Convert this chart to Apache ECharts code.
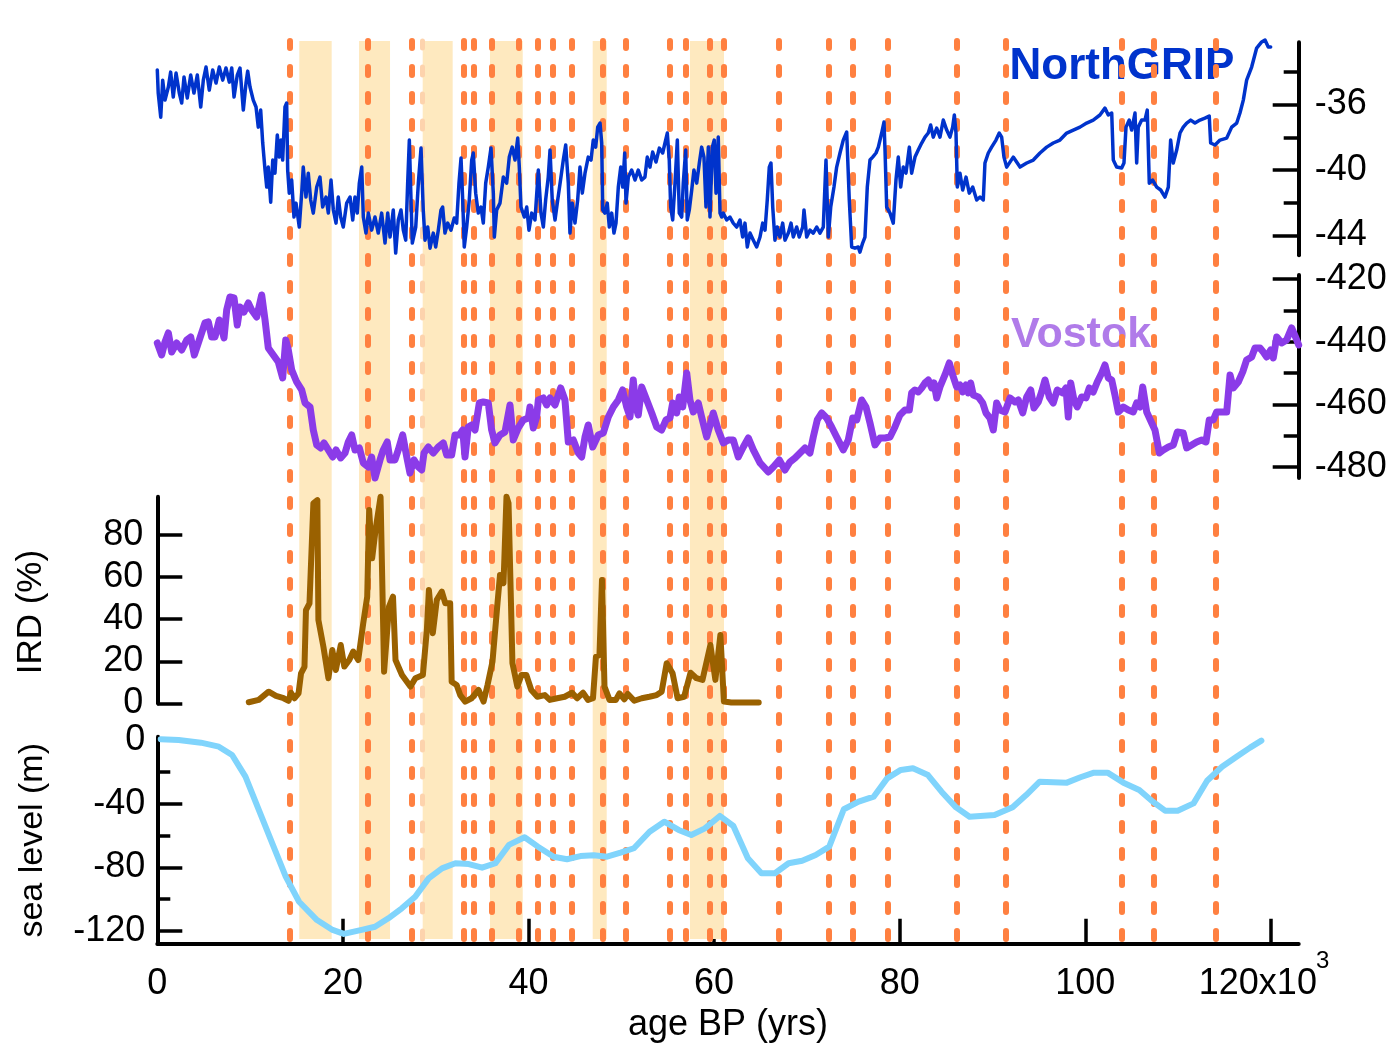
<!DOCTYPE html>
<html>
<head>
<meta charset="utf-8">
<script src="https://cdn.jsdelivr.net/npm/echarts@6/dist/echarts.min.js"></script>
<style>
  html, body { margin: 0; padding: 0; background: #ffffff; }
  #chart { width: 1389px; height: 1049px; }
</style>
</head>
<body>
<div id="chart"></div>
<script>
// ---- data (age in kyr BP) ----
// NorthGRIP ice core d18O (permil)
const northgrip = [
[0.00,-33.89],[0.10,-35.30],[0.37,-36.77],[0.58,-34.51],[0.83,-35.73],[1.19,-34.93],[1.44,-34.02],[1.72,-35.54],[2.02,-34.08],[2.37,-35.30],[2.63,-35.91],[2.88,-34.32],[3.23,-35.60],[3.60,-34.20],[3.95,-35.30],[4.31,-34.20],[4.68,-36.15],[4.96,-34.51],[5.25,-33.71],[5.60,-35.12],[5.97,-33.89],[6.33,-34.69],[6.68,-33.71],[7.05,-34.51],[7.40,-33.77],[7.76,-34.63],[8.02,-33.77],[8.27,-35.54],[8.62,-34.20],[8.91,-33.77],[9.27,-36.34],[9.56,-34.69],[9.74,-33.96],[9.99,-34.93],[10.34,-35.73],[10.64,-36.15],[10.88,-37.38],[11.14,-36.34],[11.36,-38.35],[11.61,-40.00],[11.79,-41.04],[11.96,-39.82],[12.22,-41.96],[12.44,-39.39],[12.68,-40.19],[12.93,-37.86],[13.15,-39.21],[13.33,-38.17],[13.51,-39.39],[13.76,-36.15],[13.94,-35.91],[14.05,-40.00],[14.22,-41.41],[14.48,-40.61],[14.73,-42.87],[14.95,-42.02],[15.30,-43.48],[15.56,-41.41],[15.73,-39.82],[16.02,-41.65],[16.27,-40.19],[16.53,-41.83],[16.81,-42.63],[17.18,-41.04],[17.53,-40.43],[17.82,-42.26],[18.18,-41.65],[18.43,-42.63],[18.72,-40.61],[18.97,-42.44],[19.26,-43.24],[19.50,-41.65],[19.76,-42.87],[20.04,-43.48],[20.41,-42.02],[20.77,-41.65],[21.06,-43.05],[21.30,-41.65],[21.55,-42.63],[21.77,-40.80],[22.03,-39.82],[22.20,-42.87],[22.49,-43.85],[22.74,-42.63],[23.10,-43.67],[23.46,-42.87],[23.81,-43.85],[24.18,-42.63],[24.54,-44.46],[24.83,-42.63],[25.08,-44.09],[25.43,-42.44],[25.69,-45.07],[25.97,-43.05],[26.26,-42.44],[26.51,-43.67],[26.77,-44.28],[26.98,-40.80],[27.16,-38.17],[27.34,-41.83],[27.48,-44.46],[27.85,-43.48],[28.13,-40.80],[28.42,-38.66],[28.66,-42.44],[28.85,-44.28],[29.14,-43.48],[29.39,-44.77],[29.74,-43.85],[30.00,-44.70],[30.28,-43.67],[30.57,-42.44],[30.75,-42.26],[31.00,-43.85],[31.29,-43.24],[31.65,-43.67],[32.00,-42.93],[32.26,-43.24],[32.51,-40.80],[32.73,-39.27],[32.91,-41.83],[33.08,-44.70],[33.34,-43.48],[33.62,-41.83],[33.88,-39.39],[34.05,-38.96],[34.31,-41.41],[34.59,-42.63],[34.88,-42.26],[35.13,-43.24],[35.39,-40.80],[35.67,-39.82],[35.96,-38.66],[36.21,-41.41],[36.32,-44.09],[36.57,-42.44],[36.93,-42.02],[37.29,-40.43],[37.65,-40.80],[37.93,-39.21],[38.25,-38.60],[38.55,-39.39],[38.84,-38.05],[39.01,-39.82],[39.19,-42.26],[39.55,-42.87],[39.81,-42.26],[40.05,-43.67],[40.35,-42.63],[40.70,-43.05],[41.06,-40.00],[41.35,-42.63],[41.60,-43.48],[41.85,-41.83],[42.13,-40.43],[42.32,-38.78],[42.56,-41.83],[42.86,-43.05],[43.15,-41.83],[43.50,-40.43],[43.75,-39.39],[44.01,-38.47],[44.29,-40.80],[44.47,-43.85],[44.72,-42.02],[45.01,-43.24],[45.30,-41.83],[45.55,-39.82],[45.80,-41.41],[46.09,-40.19],[46.44,-39.21],[46.74,-39.39],[46.98,-38.17],[47.24,-38.60],[47.46,-37.38],[47.71,-37.13],[47.89,-38.35],[48.00,-42.44],[48.24,-42.63],[48.49,-42.02],[48.71,-43.48],[48.97,-42.63],[49.21,-43.85],[49.43,-43.24],[49.68,-41.04],[49.94,-39.82],[50.15,-41.04],[50.37,-38.96],[50.51,-42.02],[50.76,-40.43],[51.12,-40.00],[51.48,-40.61],[51.83,-40.00],[52.20,-40.61],[52.55,-40.43],[52.80,-39.21],[53.09,-39.82],[53.38,-38.90],[53.74,-39.51],[54.10,-38.66],[54.46,-38.96],[54.71,-38.35],[54.96,-37.74],[55.17,-39.39],[55.32,-42.26],[55.54,-43.05],[55.79,-40.80],[56.04,-38.17],[56.25,-42.63],[56.51,-42.87],[56.68,-40.80],[56.94,-38.78],[57.11,-43.05],[57.33,-42.44],[57.59,-41.22],[57.83,-40.00],[58.13,-40.80],[58.41,-39.57],[58.66,-38.60],[58.91,-39.21],[59.13,-42.26],[59.38,-38.60],[59.56,-42.87],[59.81,-38.60],[60.02,-38.17],[60.21,-41.41],[60.45,-37.99],[60.64,-42.63],[60.82,-42.87],[60.99,-42.63],[61.36,-43.05],[61.71,-42.87],[62.07,-43.24],[62.44,-43.48],[62.79,-43.05],[63.08,-44.09],[63.33,-43.24],[63.58,-44.70],[63.87,-43.85],[64.23,-44.28],[64.59,-44.70],[64.95,-44.09],[65.24,-43.24],[65.49,-43.67],[65.73,-41.83],[65.95,-39.82],[66.13,-39.57],[66.32,-42.26],[66.56,-44.28],[66.81,-43.48],[67.10,-44.09],[67.39,-43.24],[67.64,-44.28],[68.00,-43.85],[68.29,-43.24],[68.54,-44.09],[68.90,-43.48],[69.18,-44.09],[69.55,-43.48],[69.69,-42.44],[69.98,-44.09],[70.33,-43.67],[70.69,-43.85],[71.06,-43.48],[71.41,-43.85],[71.77,-43.48],[72.06,-39.39],[72.31,-44.09],[72.57,-42.26],[72.92,-41.04],[73.21,-39.82],[73.57,-38.96],[73.92,-38.17],[74.29,-37.68],[74.57,-41.83],[74.83,-44.70],[75.18,-44.77],[75.54,-44.70],[75.72,-45.01],[76.01,-44.46],[76.26,-44.09],[76.51,-41.04],[76.80,-39.39],[77.09,-39.21],[77.45,-38.96],[77.70,-38.60],[78.06,-37.74],[78.31,-37.07],[78.42,-38.78],[78.60,-42.26],[78.96,-42.63],[79.31,-43.24],[79.60,-40.61],[79.85,-39.21],[80.11,-41.04],[80.39,-39.82],[80.68,-40.19],[81.04,-38.60],[81.29,-40.19],[81.65,-39.21],[82.00,-38.78],[82.37,-38.35],[82.73,-37.99],[83.08,-37.74],[83.34,-37.25],[83.62,-37.99],[83.99,-37.44],[84.34,-37.99],[84.70,-36.95],[85.07,-37.56],[85.42,-37.99],[85.71,-37.38],[85.89,-36.64],[86.07,-37.74],[86.21,-41.04],[86.50,-40.19],[86.79,-41.22],[87.15,-40.43],[87.50,-41.41],[87.87,-41.04],[88.30,-41.83],[88.66,-41.65],[89.01,-41.83],[89.19,-39.57],[89.55,-38.96],[89.91,-38.60],[90.38,-38.17],[90.73,-37.74],[90.99,-37.99],[91.24,-39.21],[91.53,-39.82],[92.24,-39.21],[92.97,-39.82],[93.69,-39.57],[94.40,-39.39],[95.12,-38.96],[95.84,-38.60],[96.55,-38.35],[97.27,-38.17],[98.00,-37.74],[98.71,-37.56],[99.43,-37.38],[100.15,-37.13],[100.86,-36.95],[101.58,-36.64],[102.12,-36.22],[102.48,-36.64],[102.85,-36.52],[103.02,-39.39],[103.38,-39.82],[103.92,-39.88],[104.17,-39.57],[104.39,-37.38],[104.74,-36.95],[105.00,-37.56],[105.36,-36.52],[105.54,-39.57],[105.71,-37.38],[106.08,-36.95],[106.43,-36.95],[106.68,-36.34],[106.90,-40.80],[107.26,-40.61],[107.70,-41.04],[108.13,-41.22],[108.59,-41.65],[108.95,-41.04],[109.20,-38.17],[109.48,-39.57],[109.85,-38.78],[110.21,-37.74],[110.56,-37.38],[110.93,-37.13],[111.36,-36.95],[111.82,-37.13],[112.36,-36.95],[112.90,-36.83],[113.36,-36.70],[113.51,-38.35],[113.98,-38.47],[114.52,-38.17],[115.24,-38.05],[115.78,-37.38],[116.32,-37.13],[116.67,-36.52],[117.03,-35.73],[117.39,-34.51],[117.93,-33.71],[118.47,-32.55],[119.01,-32.18],[119.37,-32.06],[119.72,-32.49],[119.98,-32.49]
];

// Vostok ice core deuterium (permil)
const vostok = [
[0.00,-440.43],[0.47,-444.26],[0.83,-440.11],[1.19,-437.23],[1.55,-443.30],[2.09,-440.43],[2.63,-442.66],[3.17,-439.47],[3.60,-438.51],[3.99,-444.26],[4.53,-439.47],[5.14,-434.04],[5.50,-433.72],[5.86,-438.51],[6.22,-438.51],[6.68,-433.08],[7.19,-438.83],[7.48,-429.89],[7.83,-425.74],[8.27,-426.06],[8.62,-434.68],[8.91,-428.93],[9.34,-430.53],[9.81,-427.66],[10.17,-429.89],[10.71,-432.13],[11.25,-425.10],[11.61,-433.08],[11.96,-442.02],[12.50,-444.26],[13.04,-446.49],[13.51,-451.60],[13.84,-439.47],[14.12,-442.66],[14.48,-449.04],[15.02,-452.88],[15.56,-455.43],[15.92,-459.58],[16.46,-460.86],[16.81,-468.20],[17.18,-472.98],[17.61,-473.94],[17.96,-472.35],[18.43,-474.58],[18.90,-476.82],[19.26,-474.58],[19.76,-477.13],[20.23,-475.54],[20.58,-472.03],[20.95,-469.79],[21.30,-474.58],[21.77,-473.94],[22.20,-478.73],[22.74,-480.01],[23.10,-476.82],[23.46,-483.52],[24.00,-477.77],[24.35,-474.58],[24.78,-472.03],[25.08,-477.77],[25.61,-477.77],[25.97,-474.58],[26.44,-469.79],[26.88,-476.82],[27.23,-481.92],[27.66,-477.77],[28.13,-480.01],[28.49,-480.97],[28.74,-475.54],[29.20,-473.62],[29.74,-475.54],[30.28,-473.62],[30.82,-472.35],[31.19,-476.18],[31.72,-476.18],[32.08,-469.79],[32.54,-469.79],[32.91,-468.20],[33.16,-476.82],[33.51,-467.24],[33.88,-466.60],[34.24,-468.20],[34.70,-459.58],[35.13,-459.26],[35.67,-459.58],[36.03,-468.20],[36.39,-472.35],[36.93,-469.79],[37.47,-468.83],[38.01,-460.22],[38.36,-471.39],[38.90,-467.56],[39.44,-465.00],[39.98,-464.37],[40.16,-460.86],[40.52,-467.56],[40.88,-464.05],[41.06,-458.62],[41.60,-457.98],[41.96,-460.22],[42.32,-457.98],[42.86,-460.22],[43.47,-454.79],[43.93,-458.62],[44.29,-472.03],[44.83,-471.39],[45.37,-475.54],[45.73,-476.82],[46.09,-470.43],[46.44,-466.60],[46.92,-473.62],[47.52,-469.79],[48.06,-469.15],[48.60,-464.05],[49.14,-460.86],[49.68,-458.62],[50.15,-455.43],[50.58,-460.86],[50.94,-464.05],[51.29,-452.24],[51.58,-460.86],[51.83,-463.41],[52.20,-454.47],[52.74,-458.62],[53.28,-462.77],[53.82,-467.24],[54.35,-468.20],[54.82,-465.00],[55.25,-464.37],[55.54,-459.58],[55.97,-462.77],[56.25,-457.66],[56.62,-460.86],[57.05,-450.00],[57.40,-458.62],[57.76,-462.45],[58.30,-459.58],[58.66,-464.05],[59.20,-470.43],[59.63,-465.96],[59.91,-462.77],[60.45,-468.20],[60.99,-472.35],[61.53,-471.39],[62.07,-471.39],[62.61,-476.82],[63.15,-473.62],[63.69,-470.75],[64.23,-474.58],[64.95,-478.73],[65.84,-481.61],[66.38,-480.01],[67.03,-477.77],[67.64,-480.97],[68.18,-478.41],[68.72,-477.13],[69.26,-475.54],[69.80,-473.94],[70.33,-475.54],[70.69,-470.43],[71.12,-465.00],[71.60,-462.77],[72.13,-464.37],[72.67,-467.24],[73.21,-470.43],[73.92,-474.58],[74.46,-471.39],[74.94,-464.37],[75.37,-465.00],[75.91,-458.62],[76.37,-460.86],[76.80,-465.96],[77.34,-472.98],[77.88,-470.75],[78.42,-470.75],[78.96,-470.43],[79.49,-467.24],[80.03,-463.41],[80.57,-461.81],[81.04,-461.81],[81.29,-456.38],[81.65,-455.43],[82.00,-456.06],[82.37,-454.79],[82.73,-453.19],[83.08,-452.24],[83.45,-454.79],[83.70,-453.19],[83.99,-457.98],[84.34,-454.47],[84.88,-450.64],[85.35,-446.81],[85.71,-450.64],[86.14,-454.47],[86.50,-453.83],[86.79,-456.06],[87.15,-453.83],[87.40,-456.38],[87.65,-453.19],[87.93,-457.02],[88.47,-457.66],[88.95,-459.58],[89.30,-462.77],[89.73,-464.37],[90.09,-468.20],[90.45,-459.58],[90.81,-461.81],[91.35,-462.45],[91.89,-457.98],[92.43,-459.26],[92.78,-458.62],[93.26,-462.77],[93.69,-457.66],[94.12,-455.43],[94.47,-461.17],[94.94,-459.26],[95.30,-456.06],[95.66,-452.24],[96.12,-457.66],[96.55,-459.58],[96.98,-455.43],[97.57,-456.38],[97.92,-454.79],[98.17,-464.05],[98.43,-453.19],[98.78,-458.62],[99.14,-460.86],[99.61,-457.66],[100.08,-457.98],[100.43,-454.79],[100.86,-456.06],[101.29,-452.88],[101.77,-450.00],[102.12,-447.45],[102.48,-451.60],[102.85,-452.24],[103.20,-457.02],[103.56,-462.45],[104.10,-460.86],[104.64,-461.81],[105.17,-462.45],[105.54,-459.58],[105.90,-460.86],[106.19,-454.47],[106.62,-462.45],[107.16,-465.96],[107.51,-468.20],[107.98,-475.54],[108.41,-474.58],[108.95,-473.62],[109.49,-472.98],[109.92,-468.83],[110.56,-469.15],[110.93,-473.94],[111.47,-472.98],[112.01,-472.03],[112.55,-471.39],[113.01,-472.03],[113.36,-465.00],[113.80,-465.00],[114.16,-462.45],[114.70,-462.45],[115.24,-462.45],[115.60,-450.64],[115.95,-454.79],[116.49,-452.88],[116.97,-449.68],[117.39,-445.85],[117.93,-444.89],[118.29,-442.02],[118.83,-442.02],[119.18,-443.30],[119.55,-444.89],[119.98,-442.66],[120.26,-445.21],[120.63,-438.51],[121.16,-440.43],[121.70,-439.47],[122.24,-435.64],[122.70,-438.83],[123.00,-441.06]
];

// Ice-rafted debris (%)
const ird = [
[9.86,0.6],[10.93,1.7],[12.00,5.6],[12.79,3.6],[13.61,2.5],[14.15,1.3],[14.41,5.1],[14.78,2.5],[15.22,4.8],[15.49,14.3],[15.86,17.4],[16.02,44.3],[16.40,47.5],[16.82,94.9],[17.25,96.4],[17.36,39.6],[17.90,26.9],[18.44,12.0],[18.86,25.4],[19.24,15.9],[19.77,27.7],[20.15,17.5],[20.69,20.6],[21.11,24.6],[21.65,20.6],[22.19,38.0],[22.62,50.6],[22.83,91.7],[23.15,68.8],[23.52,82.2],[24.06,98.0],[24.44,15.1],[24.97,45.9],[25.40,50.6],[25.67,20.6],[26.37,13.5],[27.27,8.0],[27.81,12.0],[28.62,13.5],[29.05,34.9],[29.27,53.8],[29.69,33.3],[30.12,49.1],[30.66,53.0],[31.04,47.5],[31.56,47.5],[31.72,10.3],[32.26,8.8],[32.64,4.0],[33.18,0.9],[33.87,2.5],[34.62,6.4],[35.16,0.9],[35.59,8.8],[36.12,19.8],[36.66,47.5],[36.93,60.9],[37.31,57.0],[37.63,98.0],[37.85,94.9],[38.27,19.1],[38.80,8.0],[39.24,13.5],[39.77,13.5],[40.30,6.4],[40.95,3.2],[41.76,4.0],[42.30,1.7],[43.09,2.5],[43.90,3.2],[44.70,5.1],[45.24,2.5],[45.88,5.1],[46.42,1.7],[46.95,2.5],[47.27,22.2],[47.65,23.0],[47.92,58.5],[48.19,8.0],[48.73,1.7],[49.42,1.7],[49.80,4.8],[50.33,2.0],[50.71,4.5],[51.40,1.3],[52.21,2.5],[53.02,3.2],[53.81,4.0],[54.35,5.6],[54.89,19.1],[55.53,14.3],[56.07,2.5],[56.77,3.2],[57.46,14.6],[58.10,12.0],[58.75,11.2],[59.60,27.7],[60.14,11.2],[60.68,32.5],[61.06,0.9],[61.85,0.5],[64.81,0.5]
];

// Relative sea level (m)
const seaLevel = [
[0.37,0.5],[2.30,0.0],[4.70,-1.7],[6.63,-4.2],[8.06,-9.4],[9.50,-23.0],[10.95,-44.0],[12.39,-64.9],[13.84,-85.8],[15.28,-101.6],[17.21,-113.1],[18.89,-119.3],[20.10,-121.8],[22.02,-119.3],[23.46,-117.3],[24.90,-112.0],[26.35,-105.7],[27.79,-98.4],[29.24,-86.9],[30.68,-80.6],[32.12,-77.4],[33.57,-77.9],[35.00,-80.2],[36.44,-77.4],[37.89,-65.9],[39.58,-61.1],[41.02,-67.0],[42.71,-73.3],[44.15,-74.9],[45.59,-72.9],[47.04,-72.4],[48.47,-73.3],[49.92,-70.8],[51.36,-68.0],[53.05,-57.6],[54.63,-51.3],[56.18,-56.5],[57.54,-59.7],[59.01,-55.5],[60.62,-47.7],[62.08,-54.0],[63.64,-74.3],[65.10,-83.7],[66.56,-83.7],[68.03,-77.4],[69.49,-75.8],[70.95,-72.2],[72.41,-67.0],[73.98,-43.5],[75.58,-38.7],[77.20,-35.6],[78.65,-24.1],[80.12,-18.8],[81.43,-17.8],[83.05,-22.0],[84.51,-32.5],[86.07,-42.3],[87.53,-48.2],[90.22,-47.1],[92.17,-42.3],[93.63,-34.6],[95.09,-26.2],[98.02,-26.8],[99.48,-23.4],[100.94,-20.5],[102.40,-20.5],[104.11,-26.8],[105.82,-31.4],[107.29,-38.8],[108.60,-44.4],[109.96,-44.4],[111.67,-39.8],[113.13,-25.6],[114.74,-16.8],[116.30,-10.5],[117.76,-4.8],[118.98,-0.4]
];

// Heinrich-type intervals (start, end ages)
const heinrichBands = [[15.30,18.79],[21.74,25.08],[28.60,31.83],[35.85,39.38],[46.92,48.43],[57.40,61.07]];

// Event lines (ages)
const eventAges = [14.22,22.63,27.41,32.97,34.13,35.99,38.98,40.95,42.57,44.69,48.00,50.47,55.25,56.94,59.56,60.99,66.99,72.31,74.94,78.74,86.14,91.46,103.92,107.33,114.09];
const faintEventAges = [28.55];

// Interstadial numbers written above the panels
const interstadialNames = ['8','12','14','17','18','19','20','21','23','24','25'];
const interstadialAges = [39.08,47.92,54.17,59.99,66.67,73.78,79.71,86.50,104.39,107.73,114.30];

// Axis ticks and labels
const ageTicks = [20,40,60,80,100,120];
const ageLabels = [0,20,40,60,80,100,120];
const ngripTicks = [-36,-40,-44];
const ngripMinorTicks = [-34,-38,-42];
const vostokTicks = [-420,-440,-460,-480];
const vostokMinorTicks = [-430,-450,-470];
const irdTicks = [0,20,40,60,80];
const seaTicks = [-40,-80,-120];
const seaMinorTicks = [-20,-60,-100];
const seaLabels = [0,-40,-80,-120];

// ---- layout ----
const FONT = '"Liberation Sans", Arial, Helvetica, sans-serif';
const TICK_SIZE = 36;
const LEFT = 157.3;
const WIDTH = 1141.4;
const AGE_MAX = 123;

const panels = {
  ngrip:  { top: 42.3,  height: 212.9, min: -45.2, max: -32.2 },
  vostok: { top: 274.9, height: 203.0, min: -483.5, max: -418.7 },
  ird:    { top: 496.7, height: 206.8, min: 0, max: 98 },
  sea:    { top: 736.8, height: 207.0, min: -128, max: 2 },
  band:   { top: 41,    height: 898,   min: 0, max: 1 },
  label:  { top: 5,     height: 32,    min: 0, max: 1 }
};

// grid order: 0 ngrip, 1 ngrip minor, 2 vostok, 3 vostok minor, 4 ird, 5 sea, 6 sea minor, 7 bands, 8 labels
const gridKeys = ['ngrip','ngrip','vostok','vostok','ird','sea','sea','band','label'];

const grids = gridKeys.map(k => ({
  left: LEFT, width: WIDTH, top: panels[k].top, height: panels[k].height,
  containLabel: false, outerBoundsMode: 'none'
}));

const hiddenX = i => ({
  gridIndex: i, type: 'value', min: 0, max: AGE_MAX, show: false,
  axisLine: { onZero: false }, splitLine: { show: false }
});

const xAxes = gridKeys.map((k, i) => hiddenX(i));
xAxes[5] = {
  gridIndex: 5, type: 'value', min: 0, max: AGE_MAX,
  axisLine: { show: true, onZero: false, lineStyle: { color: '#000', width: 4 } },
  axisTick: { show: true, inside: true, length: 25, customValues: ageTicks, lineStyle: { color: '#000', width: 3.5 } },
  axisLabel: {
    customValues: ageLabels, margin: 20, color: '#000', fontFamily: FONT, fontSize: TICK_SIZE, lineHeight: 40,
    // the last label carries the "x10^3" multiplier; the exponent is drawn as its own text
    formatter: v => v === 120 ? '{m|120x10}' : String(v),
    rich: {
      m: { fontSize: TICK_SIZE, fontFamily: FONT, color: '#000', lineHeight: 40, padding: [0, 26, 0, 0] }
    }
  },
  splitLine: { show: false },
  name: 'age BP (yrs)', nameLocation: 'middle', nameGap: 63,
  nameTextStyle: { fontSize: 36, fontFamily: FONT, color: '#000' }
};

const axisLineStyle = { show: true, onZero: false, lineStyle: { color: '#000', width: 4 } };
const tickStyle = { color: '#000', width: 3.5 };
const labelStyle = { color: '#000', fontFamily: FONT, fontSize: TICK_SIZE };

function valueAxis(i, key, position, opts) {
  const p = panels[key];
  return Object.assign({
    gridIndex: i, type: 'value', position: position, min: p.min, max: p.max,
    splitLine: { show: false }
  }, opts);
}

const yAxes = [
  valueAxis(0, 'ngrip', 'right', {
    axisLine: axisLineStyle,
    axisTick: { show: true, inside: true, length: 26, customValues: ngripTicks, lineStyle: tickStyle },
    axisLabel: Object.assign({ customValues: ngripTicks, margin: 16 }, labelStyle)
  }),
  valueAxis(1, 'ngrip', 'right', {
    axisLine: { show: false, onZero: false },
    axisTick: { show: true, inside: true, length: 15, customValues: ngripMinorTicks, lineStyle: tickStyle },
    axisLabel: { show: false }
  }),
  valueAxis(2, 'vostok', 'right', {
    axisLine: axisLineStyle,
    axisTick: { show: true, inside: true, length: 26, customValues: vostokTicks, lineStyle: tickStyle },
    axisLabel: Object.assign({ customValues: vostokTicks, margin: 16 }, labelStyle)
  }),
  valueAxis(3, 'vostok', 'right', {
    axisLine: { show: false, onZero: false },
    axisTick: { show: true, inside: true, length: 15, customValues: vostokMinorTicks, lineStyle: tickStyle },
    axisLabel: { show: false }
  }),
  valueAxis(4, 'ird', 'left', {
    axisLine: axisLineStyle,
    axisTick: { show: true, inside: true, length: 25, customValues: irdTicks, lineStyle: tickStyle },
    axisLabel: Object.assign({ customValues: irdTicks, margin: 14 }, labelStyle),
    name: 'IRD (%)', nameLocation: 'middle', nameRotate: 90, nameGap: 108,
    nameTextStyle: { fontSize: 35, fontFamily: FONT, color: '#000', padding: [0, 24, 0, 0] }
  }),
  valueAxis(5, 'sea', 'left', {
    axisLine: axisLineStyle,
    axisTick: { show: true, inside: true, length: 25, customValues: seaTicks, lineStyle: tickStyle },
    axisLabel: Object.assign({ customValues: seaLabels, margin: 12 }, labelStyle),
    name: 'sea level (m)', nameLocation: 'middle', nameRotate: 90, nameGap: 108,
    nameTextStyle: { fontSize: 34, fontFamily: FONT, color: '#000' }
  }),
  valueAxis(6, 'sea', 'left', {
    axisLine: { show: false, onZero: false },
    axisTick: { show: true, inside: true, length: 13, customValues: seaMinorTicks, lineStyle: tickStyle },
    axisLabel: { show: false }
  }),
  valueAxis(7, 'band', 'left', { show: false }),
  valueAxis(8, 'label', 'left', { show: false })
];

const dataLine = (name, idx, data, color, width, z) => ({
  name: name, type: 'line', xAxisIndex: idx, yAxisIndex: idx, data: data,
  symbol: 'none', clip: false, z: z, silent: true,
  lineStyle: { color: color, width: width, join: 'round', cap: 'round' }
});

const option = {
  animation: false,
  backgroundColor: '#ffffff',
  grid: grids,
  xAxis: xAxes,
  yAxis: yAxes,
  graphic: [
    { type: 'text', x: 1122, y: 67, z: 1, silent: true,
      style: { text: 'NorthGRIP', fill: '#0033cc', font: 'bold 44px ' + FONT, align: 'center', verticalAlign: 'middle' } },
    { type: 'text', x: 1081, y: 335, z: 1, silent: true,
      style: { text: 'Vostok', fill: '#b07be9', font: 'bold 43px ' + FONT, align: 'center', verticalAlign: 'middle' } },
    { type: 'text', x: 1316, y: 961, z: 1, silent: true,
      style: { text: '3', fill: '#000', font: '24px ' + FONT, align: 'left', verticalAlign: 'middle' } }
  ],
  series: [
    {
      name: 'bands', type: 'line', xAxisIndex: 7, yAxisIndex: 7, data: [], z: 0, silent: true,
      markArea: {
        silent: true, itemStyle: { color: '#fee9bf' },
        data: heinrichBands.map(b => [{ xAxis: b[0] }, { xAxis: b[1] }])
      }
    },
    {
      name: 'events', type: 'line', xAxisIndex: 7, yAxisIndex: 7, data: [], z: 2, silent: true,
      markLine: {
        silent: true, symbol: ['none', 'none'], label: { show: false },
        lineStyle: { color: '#ff8040', width: 6, type: [8, 19], cap: 'round', opacity: 1 },
        data: eventAges.map(a => ({ xAxis: a }))
          .concat(faintEventAges.map(a => ({ xAxis: a, lineStyle: { color: '#fdd3ad', width: 5, type: [8, 19], cap: 'round' } })))
      }
    },
    {
      name: 'interstadials', type: 'scatter', xAxisIndex: 8, yAxisIndex: 8, z: 3, silent: true,
      symbolSize: 1, itemStyle: { opacity: 0 },
      data: interstadialAges.map((a, i) => ({ value: [a, 0.5], name: interstadialNames[i] })),
      label: {
        show: true, position: 'inside', formatter: p => p.name,
        color: '#ff5a14', fontFamily: FONT, fontSize: 28
      }
    },
    dataLine('NorthGRIP', 0, northgrip, '#0033cc', 3.5, 5),
    dataLine('Vostok', 2, vostok, '#8b3be8', 7, 5),
    dataLine('IRD', 4, ird, '#9a6100', 6, 5),
    dataLine('sea level', 5, seaLevel, '#80d4fc', 6, 5)
  ]
};

const chart = echarts.init(document.getElementById('chart'), null, { renderer: 'canvas' });
chart.setOption(option);
</script>
</body>
</html>
